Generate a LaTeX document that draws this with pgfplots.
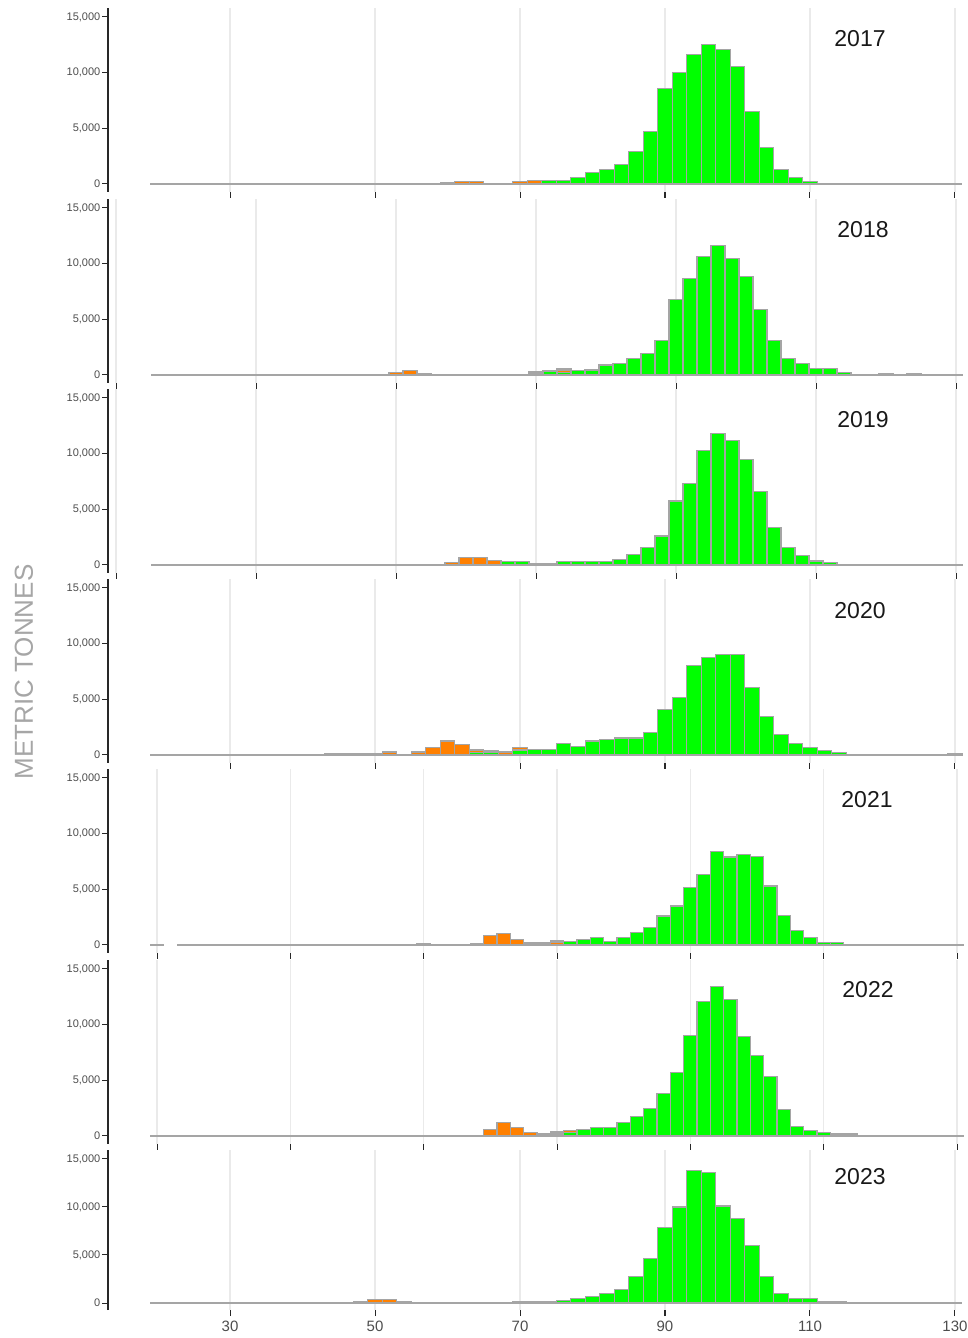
\documentclass[border=0pt]{standalone}
\usepackage{pgfplots}
\usepackage{pgfplotstable}
\pgfplotsset{compat=1.18}
\usepackage{fontspec}
\setmainfont{Liberation Sans}
\definecolor{barg}{RGB}{0,255,0}
\definecolor{baro}{RGB}{255,128,0}
\definecolor{outl}{RGB}{165,165,165}
\definecolor{gridc}{RGB}{234,234,234}
\definecolor{tickc}{RGB}{77,77,77}
\definecolor{axc}{RGB}{40,40,40}

% columns: bin centre, green, orange, grey (metric tonnes)
\pgfplotstableread{
x g o r
60 0 0 100
62 0 250 0
64 0 250 0
66 0 0 60
68 0 0 60
70 0 200 0
72 0 300 50
74 300 0 0
76 350 0 0
78 600 0 0
80 1000 0 0
82 1300 0 0
84 1750 0 0
86 2900 0 0
88 4700 0 0
90 8550 0 0
92 10050 0 0
94 11650 0 0
96 12500 0 0
98 12100 0 0
100 10550 0 0
102 6500 0 0
104 3250 0 0
106 1300 0 0
108 550 0 0
110 250 0 0
112 0 0 80
114 0 0 80
}\tA

\pgfplotstableread{
x g o r
50 0 250 0
52 0 420 0
54 0 0 100
58 0 0 80
60 0 0 80
62 0 0 80
64 0 0 80
68 0 0 80
70 0 0 300
72 300 0 120
74 250 200 100
76 420 0 0
78 450 0 0
80 900 0 0
82 1050 0 0
84 1450 0 0
86 1900 0 0
88 3100 0 0
90 6750 0 0
92 8700 0 0
94 10650 0 0
96 11650 0 0
98 10500 0 0
100 8850 0 0
102 5900 0 0
104 3100 0 0
106 1450 0 0
108 1000 0 0
110 550 0 0
112 550 0 0
114 250 0 0
120 0 0 100
124 0 0 100
}\tB

\pgfplotstableread{
x g o r
48 0 0 80
50 0 0 80
52 0 0 80
54 0 0 80
56 0 0 80
58 0 250 0
60 0 700 0
62 0 700 0
64 0 400 0
66 300 0 0
68 300 0 0
70 0 0 100
72 0 0 100
74 300 0 0
76 300 0 0
78 330 0 0
80 330 0 0
82 500 0 0
84 970 0 0
86 1600 0 0
88 2600 0 0
90 5750 0 0
92 7300 0 0
94 10300 0 0
96 11800 0 0
98 11200 0 0
100 9450 0 0
102 6600 0 0
104 3350 0 0
106 1550 0 0
108 850 0 0
110 360 0 0
112 250 0 0
114 0 0 80
116 0 0 80
}\tC

\pgfplotstableread{
x g o r
44 0 0 100
46 0 0 100
48 0 0 100
50 0 0 100
52 0 250 50
54 0 0 80
56 0 250 30
58 0 660 0
60 0 1260 0
62 0 960 0
64 250 200 50
66 250 0 150
68 0 250 80
70 450 200 0
72 500 0 0
74 500 0 0
76 1000 0 0
78 780 0 0
80 1260 0 0
82 1400 0 0
84 1530 0 0
86 1530 0 0
88 2000 0 0
90 4050 0 0
92 5200 0 0
94 8000 0 0
96 8750 0 0
98 9050 0 0
100 9050 0 0
102 6100 0 0
104 3450 0 0
106 1830 0 0
108 1000 0 0
110 660 0 0
112 400 0 0
114 200 0 0
116 0 0 60
118 0 0 60
120 0 0 60
122 0 0 60
124 0 0 60
130 0 0 100
}\tD

\pgfplotstableread{
x g o r
10 0 0 50
50 0 0 150
58 0 0 100
60 0 850 0
62 0 1000 0
64 0 500 0
66 0 150 50
68 0 0 200
70 0 250 150
72 330 0 0
74 500 0 0
76 700 0 0
78 330 0 0
80 700 0 0
82 1100 0 0
84 1600 0 0
86 2600 0 0
88 3500 0 0
90 5200 0 0
92 6350 0 0
94 8400 0 0
96 7900 0 0
98 8100 0 0
100 7950 0 0
102 5300 0 0
104 2650 0 0
106 1300 0 0
108 650 0 0
110 220 0 0
112 220 0 0
}\tE

\pgfplotstableread{
x g o r
60 0 570 0
62 0 1200 0
64 0 750 0
66 0 300 0
68 0 0 240
70 0 0 360
72 300 180 0
74 600 0 0
76 750 0 0
78 750 0 0
80 1200 0 0
82 1780 0 0
84 2500 0 0
86 3850 0 0
88 5700 0 0
90 9000 0 0
92 12050 0 0
94 13400 0 0
96 12250 0 0
98 8900 0 0
100 7200 0 0
102 5350 0 0
104 2350 0 0
106 870 0 0
108 500 0 0
110 300 0 0
112 0 0 180
114 0 0 180
}\tF

\pgfplotstableread{
x g o r
48 0 0 100
50 0 400 0
52 0 400 0
54 0 0 100
64 0 0 80
66 0 0 80
68 0 0 80
70 0 0 200
72 0 0 200
74 0 0 200
76 250 0 0
78 500 0 0
80 670 0 0
82 1000 0 0
84 1400 0 0
86 2750 0 0
88 4600 0 0
90 7900 0 0
92 10000 0 0
94 13800 0 0
96 13550 0 0
98 10100 0 0
100 8800 0 0
102 6000 0 0
104 2750 0 0
106 1000 0 0
108 450 0 0
110 450 0 0
112 0 0 100
114 0 0 100
}\tG

\pgfplotsset{
 panel/.style={
  scale only axis, width=858pt, height=184pt,
  anchor=south west,
  ymin=-718.6, ymax=15808,
  axis lines*=left,
  x axis line style={draw=none},
  y axis line style={draw=axc, line width=1.4pt},
  ytick={0,5000,10000,15000},
  scaled y ticks=false,
  /pgf/number format/assume math mode=true,
  /pgf/number format/1000 sep={,},
  yticklabel style={font=\fontsize{11}{11}\selectfont, text=tickc, inner sep=1.5pt},
  xtick={10,30,50,70,90,110,130},
  xticklabels={},
  xmajorgrids,
  major grid style={draw=gridc, line width=1.2pt},
  tick align=outside, major tick length=6pt,
  tick style={draw=axc, line width=1pt},
  ybar stacked, bar width=2,
 },
 bl/.style={sharp plot, stack plots=false, draw=outl, line width=1.5pt, mark=none},
 bg/.style={fill=barg, draw=outl, line width=1.1pt},
 bo/.style={fill=baro, draw=outl, line width=1.1pt},
 br/.style={fill=outl, draw=outl, line width=1.1pt},
}

\begin{document}
\begin{tikzpicture}
\useasboundingbox (0,0) rectangle (968pt,1338pt);

% 2017
\begin{axis}[panel, at={(108pt,1146pt)}, xmin=13.17, xmax=131.52]
\addplot[bl] coordinates {(19,0) (131,0)};
\addplot[bg] table[x=x,y=g]{\tA};
\addplot[bo] table[x=x,y=o]{\tA};
\addplot[br] table[x=x,y=r]{\tA};
\end{axis}

% 2018
\begin{axis}[panel, at={(108pt,955pt)}, xmin=8.857, xmax=131.43]
\addplot[bl] coordinates {(15,0) (131,0)};
\addplot[bg] table[x=x,y=g]{\tB};
\addplot[bo] table[x=x,y=o]{\tB};
\addplot[br] table[x=x,y=r]{\tB};
\end{axis}

% 2019
\begin{axis}[panel, at={(108pt,765pt)}, xmin=8.857, xmax=131.43]
\addplot[bl] coordinates {(15,0) (131,0)};
\addplot[bg] table[x=x,y=g]{\tC};
\addplot[bo] table[x=x,y=o]{\tC};
\addplot[br] table[x=x,y=r]{\tC};
\end{axis}

% 2020
\begin{axis}[panel, at={(108pt,575pt)}, xmin=13.17, xmax=131.52]
\addplot[bl] coordinates {(19,0) (131,0)};
\addplot[bg] table[x=x,y=g]{\tD};
\addplot[bo] table[x=x,y=o]{\tD};
\addplot[br] table[x=x,y=r]{\tD};
\end{axis}

% 2021
\begin{axis}[panel, at={(108pt,385pt)}, xmin=2.65, xmax=131.35]
\addplot[bl] coordinates {(9,0) (11,0)};
\addplot[bl] coordinates {(13,0) (131,0)};
\addplot[bg] table[x=x,y=g]{\tE};
\addplot[bo] table[x=x,y=o]{\tE};
\addplot[br] table[x=x,y=r]{\tE};
\end{axis}

% 2022
\begin{axis}[panel, at={(108pt,194pt)}, xmin=2.65, xmax=131.35]
\addplot[bl] coordinates {(9,0) (131,0)};
\addplot[bg] table[x=x,y=g]{\tF};
\addplot[bo] table[x=x,y=o]{\tF};
\addplot[br] table[x=x,y=r]{\tF};
\end{axis}

% 2023
\begin{axis}[panel, at={(108pt,28pt)}, height=160pt, ymin=-729, ymax=15937,
  xmin=13.17, xmax=131.52,
  xtick={30,50,70,90,110,130},
  xticklabels={30,50,70,90,110,130},
  every x tick label/.append style={font=\fontsize{15}{15}\selectfont, text=tickc, yshift=-1pt}]
\addplot[bl] coordinates {(19,0) (131,0)};
\addplot[bg] table[x=x,y=g]{\tG};
\addplot[bo] table[x=x,y=o]{\tG};
\addplot[br] table[x=x,y=r]{\tG};
\end{axis}

\begin{scope}[every node/.style={font=\fontsize{23}{23}\selectfont, text=black!90}]
\node at (860pt,1299pt) {2017};
\node at (863pt,1108pt) {2018};
\node at (863pt,918pt) {2019};
\node at (860pt,727pt) {2020};
\node at (867pt,538pt) {2021};
\node at (868pt,348pt) {2022};
\node at (860pt,161pt) {2023};
\end{scope}
\node[rotate=90, font=\fontsize{26}{26}\selectfont, text=black!35] at (24pt,666pt) {METRIC TONNES};
\end{tikzpicture}
\end{document}
